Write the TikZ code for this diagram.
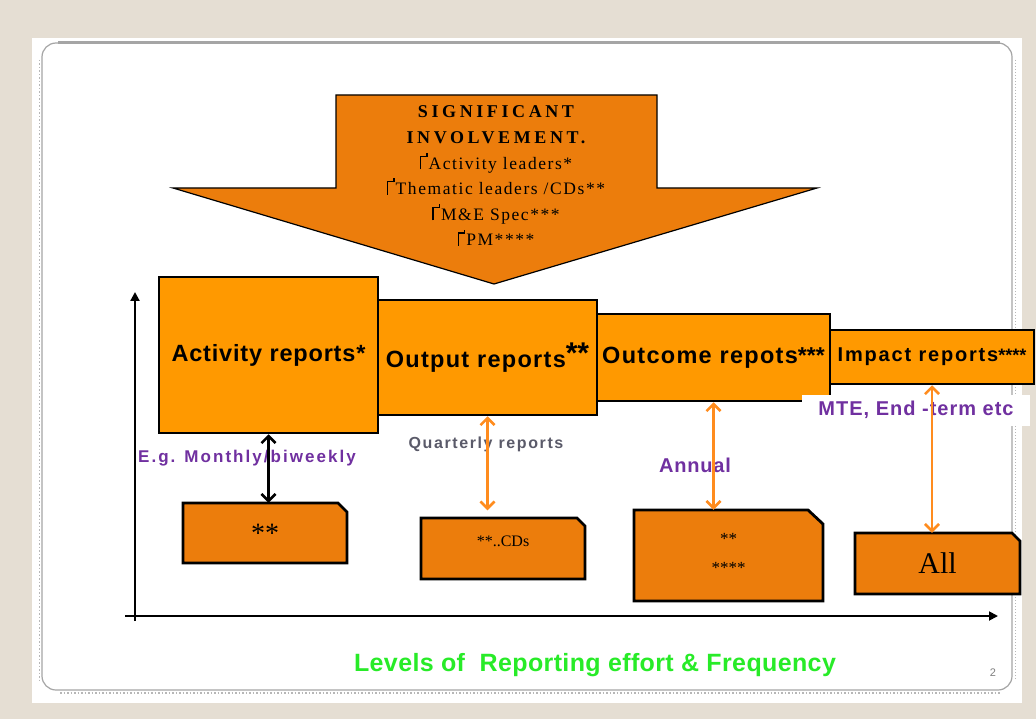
\documentclass[tikz,border=0pt]{standalone}
\usepackage{fontspec}
\setmainfont{Liberation Serif}
\newfontfamily\arialfont{Liberation Sans}
\usetikzlibrary{arrows.meta}

\definecolor{bgbeige}{RGB}{229,222,211}
\definecolor{framegray}{RGB}{165,165,165}
\definecolor{deeporange}{RGB}{236,125,12}
\definecolor{brightorange}{RGB}{255,153,0}
\definecolor{arroworange}{RGB}{255,140,30}
\definecolor{labelpurple}{RGB}{112,48,160}
\definecolor{labelgray}{RGB}{90,90,105}
\definecolor{titlegreen}{RGB}{40,235,40}

% bullet mark printed in front of each involvement line
\newcommand\wingmark{\makebox[0.5em][l]{\rule{0.07em}{0.78em}\rule[0.71em]{0.3em}{0.07em}\rule[0.71em]{0.07em}{0.22em}}}
% Arial-like bold text with a given size and letter spacing
\newcommand\sansb[2]{\arialfont\bfseries\fontsize{#1}{#1}\selectfont\addfontfeature{LetterSpace=#2}}
% serif lines of the involvement arrow
\newcommand\headline{\fontsize{18}{25.6}\selectfont\bfseries\addfontfeature{LetterSpace=20}}
\newcommand\roleline{\fontsize{17.5}{25.6}\selectfont\addfontfeature{LetterSpace=9}}

\begin{document}
\begin{tikzpicture}[x=1pt,y=-1pt,
  mainbox/.style={draw=black, line width=2.5pt, fill=brightorange, inner sep=0pt},
  lowtext/.style={inner sep=0pt, font=\fontsize{17}{26}\selectfont, align=center},
  bigarrow/.style={draw=black, line width=1.2pt, fill=deeporange},
  lowbox/.style={draw=black, line width=2.8pt, fill=deeporange, line join=miter},
  biarrow/.style={line width=2.6pt, {Straight Barb[length=7pt,width=14pt]}-{Straight Barb[length=7pt,width=14pt]}},
  axis/.style={draw=black, line width=2.2pt, -{Triangle[length=9pt,width=9pt]}},
  freqlabel/.style={inner sep=0pt, text=labelpurple}
]
% page and slide frame
\fill[bgbeige] (0,0) rectangle (1036,719);
\fill[white] (32,38) rectangle (1022,703);
\draw[framegray, line width=1.2pt, rounded corners=14pt] (42,43) rectangle (1012,690);
\draw[framegray, line width=3pt] (58,42.5) -- (1000,42.5);
\draw[framegray!80, line width=1.5pt, dotted] (39.5,60) -- (39.5,680);
\draw[framegray!80, line width=1.5pt, dotted] (60,693) -- (1000,693);
\draw[framegray!80, line width=1pt, dotted] (1015,60) -- (1015,680);

% axes
\coordinate (yfoot) at (135,621);
\coordinate (ytop) at (135,292);
\coordinate (xfoot) at (125,616);
\coordinate (xend) at (998,616);
\draw[axis] (yfoot) -- (ytop);
\draw[axis, line width=1.8pt] (xfoot) -- (xend);

% involvement arrow
\filldraw[bigarrow] (336,95) -- (657,95) -- (657,188) -- (817,188) -- (494,284) -- (173,188) -- (336,188) -- cycle;
\node[align=center, inner sep=0pt, font=\fontsize{17.5}{25.6}\selectfont] (involve) at (496,176)
  {\headline SIGNIFICANT\\
   \headline INVOLVEMENT.\\
   \roleline\wingmark Activity leaders*\\
   \roleline\wingmark Thematic leaders /CDs**\\
   \roleline\wingmark M\&E Spec***\\
   \roleline\wingmark PM****};

% report levels
\node[mainbox, minimum width=219pt, minimum height=156pt] (act) at (268.5,355)
  {\sansb{23.5}{3.5}Activity reports*};
\node[mainbox, minimum width=219pt, minimum height=115pt] (out) at (487.5,357.5)
  {\raisebox{-4pt}{\sansb{23.5}{5.5}Output reports}{\sansb{30}{0}**}};
\node[mainbox, minimum width=233pt, minimum height=87pt] (oc) at (713.5,357.5)
  {\sansb{23.5}{5.5}Outcome repots{\sansb{23}{0}***}};
\node[mainbox, minimum width=204pt, minimum height=54pt] (imp) at (932,357)
  {\sansb{20}{9}Impact reports{\sansb{18}{0}****}};

% who reports at each level
\filldraw[lowbox] (183,503) -- (338,503) -- (347,512) -- (347,563) -- (183,563) -- cycle;
\node[lowtext, minimum width=164pt, minimum height=60pt, font=\fontsize{28}{28}\selectfont] (who1) at (265,533) {**};
\filldraw[lowbox] (421,518) -- (577,518) -- (585,526) -- (585,579) -- (421,579) -- cycle;
\node[lowtext, minimum width=164pt, minimum height=61pt, font=\fontsize{16}{16}\selectfont] (who2) at (503,541) {**..CDs};
\filldraw[lowbox] (634,510) -- (808,510) -- (823,524) -- (823,601) -- (634,601) -- cycle;
\node[lowtext, minimum width=189pt, minimum height=91pt] (who3) at (728.5,555.5) {};
\node[lowtext, anchor=center] (who3a) at (728.5,539) {**};
\node[lowtext, anchor=center] (who3b) at (728.5,568) {****};
\filldraw[lowbox] (855,533) -- (1012,533) -- (1020,541) -- (1020,594) -- (855,594) -- cycle;
\node[lowtext, minimum width=165pt, minimum height=61pt, font=\fontsize{30}{30}\selectfont] (who4) at (937.5,563.5) {All};

% frequency labels
\node[freqlabel] (monthly) at (247,458) {\sansb{17}{12}E.g. Monthly/biweekly};
\node[freqlabel, text=labelgray] (quarterly) at (486,444) {\sansb{16}{10}Quarterly reports};
\node[freqlabel] (annual) at (695,465) {\sansb{20}{4}Annual};
\node[freqlabel, fill=white, minimum width=228pt, minimum height=31pt] (mte) at (916,410)
  {\sansb{20}{5}MTE, End -term etc};

% level-to-reporter links
\draw[biarrow, black] (act.south) -- (act.south |- who1.north);
\draw[biarrow, arroworange] (out.south) -- (out.south |- who2.north);
\draw[biarrow, arroworange] (oc.south) -- (oc.south |- who3.north);
\draw[biarrow, arroworange] (imp.south) -- (imp.south |- who4.north);

% caption and slide number
\node[inner sep=0pt, text=titlegreen] (caption) at (595,665)
  {\sansb{25}{1.5}Levels of~~Reporting effort \& Frequency};
\node[inner sep=0pt, text=gray] (pagenum) at (993,673) {\arialfont\fontsize{11}{11}\selectfont 2};
\end{tikzpicture}
\end{document}
